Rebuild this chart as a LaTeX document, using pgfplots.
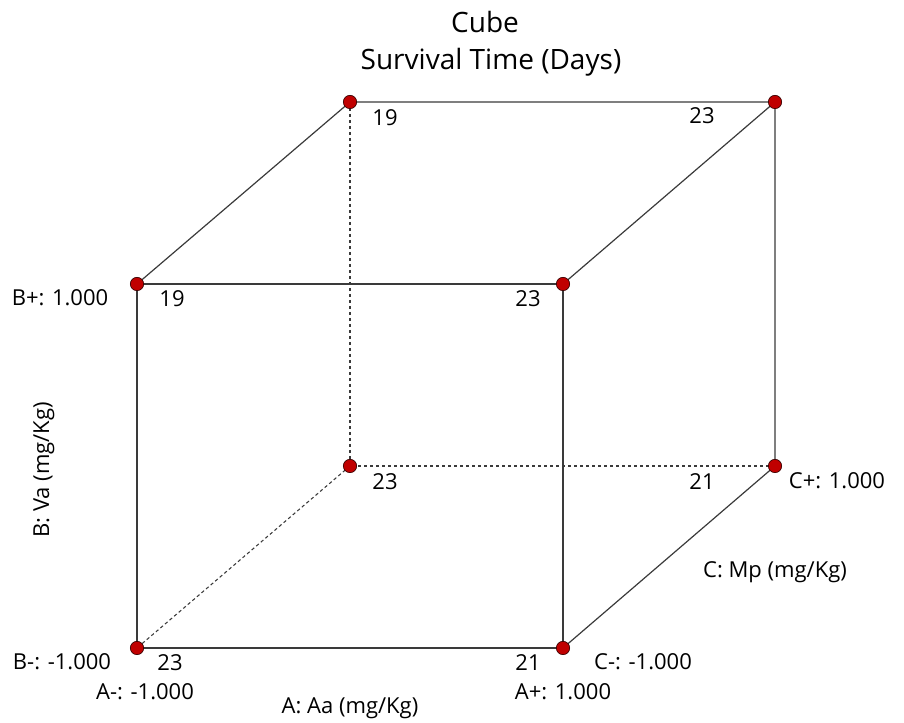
\documentclass[border=0pt]{standalone}
\usepackage{pgfplots}
\pgfplotsset{compat=1.18}
\usepackage{pgfplotstable}
\usepackage{fontspec}
\setmainfont{Open Sans}
\definecolor{edge}{HTML}{3A3A3A}
\definecolor{dotred}{HTML}{C00000}
% vertex positions (projected) and response values
\pgfplotstableread{
px  py  val
137 72  23
563 72  21
137 436 19
563 436 23
350 254 23
775 254 21
350 618 19
775 618 23
}\vertices
\begin{document}
\begin{tikzpicture}
\begin{axis}[
  scale only axis, width=678pt, height=540pt,
  xmin=0, xmax=904, ymin=0, ymax=720,
  hide axis, clip=false,
  font=\fontsize{16.5pt}{19pt}\selectfont,
]
\path (axis cs:0,0) rectangle (axis cs:904,720);
% solid edges
\addplot[edge, line width=0.9pt, no marks] coordinates {(137,72) (563,72) (563,436) (137,436) (137,72)};
\addplot[edge, line width=0.9pt, no marks] coordinates {(137,436) (350,618) (775,618) (563,436)};
\addplot[edge, line width=0.9pt, no marks] coordinates {(775,618) (775,254) (563,72)};
% hidden edges
\addplot[edge, line width=0.8pt, dash pattern=on 2.5pt off 2pt, no marks] coordinates {(350,618) (350,254) (775,254)};
\addplot[edge, line width=0.8pt, dash pattern=on 2.5pt off 2pt, no marks] coordinates {(350,254) (137,72)};
% vertices
\addplot[only marks, mark=*, mark size=5pt, mark options={fill=dotred, draw=black!70!dotred, line width=0.5pt}] table[x=px, y=py] {\vertices};
% response values
\node[anchor=center] at (axis cs:170,57) {23};
\node[anchor=center] at (axis cs:528,57) {21};
\node[anchor=center] at (axis cs:172,421) {19};
\node[anchor=center] at (axis cs:528,421) {23};
\node[anchor=center] at (axis cs:385,238) {23};
\node[anchor=center] at (axis cs:702,238) {21};
\node[anchor=center] at (axis cs:385,602) {19};
\node[anchor=center] at (axis cs:702,604) {23};
% factor labels
\node[anchor=center] at (axis cs:60,422) {B+: 1.000};
\node[anchor=center] at (axis cs:62,58) {B-: -1.000};
\node[anchor=center, rotate=90] at (axis cs:44,250) {B: Va (mg/Kg)};
\node[anchor=center] at (axis cs:145,28) {A-: -1.000};
\node[anchor=center] at (axis cs:563,28) {A+: 1.000};
\node[anchor=center] at (axis cs:350,12) {A: Aa (mg/Kg)};
\node[anchor=center] at (axis cs:643,58) {C-: -1.000};
\node[anchor=center] at (axis cs:837,239) {C+: 1.000};
\node[anchor=center] at (axis cs:775,148) {C: Mp (mg/Kg)};
% titles
\node[anchor=center, font=\fontsize{21pt}{25pt}\selectfont] at (axis cs:485,698) {Cube};
\node[anchor=center, font=\fontsize{21pt}{25pt}\selectfont] at (axis cs:491,658) {Survival Time (Days)};
\end{axis}
\end{tikzpicture}
\end{document}
